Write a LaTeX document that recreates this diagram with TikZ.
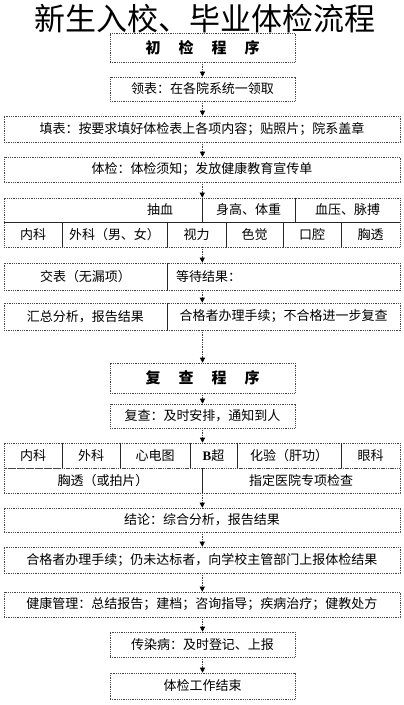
\documentclass[tikz,border=0pt]{standalone}
\usepackage{fontspec}
\setmainfont{Noto Sans CJK SC}
\newfontfamily\latinb{Liberation Serif}
\usetikzlibrary{arrows.meta}
\begin{document}
\begin{tikzpicture}[x=1pt,y=-1pt,
  every node/.style={font=\fontsize{13}{15}\selectfont, inner sep=0pt, text=black},
  box/.style={draw=gray!55!black, dash pattern=on 1pt off 0.8pt, line width=0.55pt},
  bw/.style={minimum width=#1pt},
  bh/.style={minimum height=#1pt},
  headfont/.style={font=\fontsize{15}{17}\selectfont\bfseries},
  arr/.style={draw=gray!50!black, densely dotted, line width=0.7pt,
    -{Triangle[width=5pt,length=5pt,black]}},
  divline/.style={draw=gray!30!black, line width=0.8pt},
  titlestyle/.style={font=\fontsize{31}{33}\selectfont}
]
\useasboundingbox (0,0) rectangle (404,705);
\fill[white] (0,0) rectangle (404,705);

\node[titlestyle] (title) at (205,19) {新生入校、毕业体检流程};

% first stage
\node[box,bw=185,bh=29,headfont] (b1) at (202.5,47.5) {初\hspace{18pt}检\hspace{18pt}程\hspace{18pt}序};
\node[box,bw=185,bh=24] (b2) at (202.5,89) {领表：在各院系统一领取};
\node[box,bw=396,bh=26] (b3) at (202,129) {填表：按要求填好体检表上各项内容；贴照片；院系盖章};
\node[box,bw=396,bh=25] (b4) at (202,169.5) {体检：体检须知；发放健康教育宣传单};

% table 1
\node[box,bw=198,bh=24] (t1a) at (103,210) {};
\node (t1at) at (160,210) {抽血};
\node[box,bw=93,bh=24] (t1b) at (248.5,210) {身高、体重};
\node[box,bw=105,bh=24] (t1c) at (347.5,210) {血压、脉搏};
\node[box,bw=58,bh=25] (t1d) at (33,234.5) {内科};
\node[box,bw=105,bh=25] (t1e) at (114.5,234.5) {外科（男、女）};
\node[box,bw=59,bh=25] (t1f) at (196.5,234.5) {视力};
\node[box,bw=57,bh=25] (t1g) at (254.5,234.5) {色觉};
\node[box,bw=58,bh=25] (t1h) at (312,234.5) {口腔};
\node[box,bw=59,bh=25] (t1i) at (370.5,234.5) {胸透};
\draw[divline] (t1a.north east) -- (t1a.south east);
\draw[divline] (t1b.north east) -- (t1b.south east);
\draw[divline] (t1a.south west) -- (t1c.south east);
\draw[divline] (t1d.north east) -- (t1d.south east);
\draw[divline] (t1e.north east) -- (t1e.south east);
\draw[divline] (t1f.north east) -- (t1f.south east);
\draw[divline] (t1g.north east) -- (t1g.south east);
\draw[divline] (t1h.north east) -- (t1h.south east);

% rows 3 and 4
\node[box,bw=163,bh=27] (r3a) at (85.5,276.5) {交表（无漏项）};
\node[box,bw=233,bh=27] (r3b) at (283.5,276.5) {};
\node[anchor=west] (r3bt) at (176,276.5) {等待结果：};
\draw[divline] (r3a.north east) -- (r3a.south east);
\node[box,bw=163,bh=27] (r4a) at (85.5,316.5) {汇总分析，报告结果};
\node[box,bw=233,bh=27] (r4b) at (283.5,316.5) {合格者办理手续；不合格进一步复查};
\draw[divline] (r4a.north east) -- (r4a.south east);

% second stage
\node[box,bw=185,bh=30,headfont] (b5) at (202.5,378) {复\hspace{18pt}查\hspace{18pt}程\hspace{18pt}序};
\node[box,bw=185,bh=24] (b6) at (202.5,416) {复查：及时安排，通知到人};

% table 2
\node[box,bw=58,bh=25] (t2a) at (33,455.5) {内科};
\node[box,bw=58,bh=25] (t2b) at (91,455.5) {外科};
\node[box,bw=70,bh=25] (t2c) at (155,455.5) {心电图};
\node[box,bw=47,bh=25] (t2d) at (213.5,455.5) {{\latinb\bfseries B}超};
\node[box,bw=104,bh=25] (t2e) at (289,455.5) {化验（肝功）};
\node[box,bw=59,bh=25] (t2f) at (370.5,455.5) {眼科};
\node[box,bw=198,bh=25] (t2g) at (103,480.5) {胸透（或拍片）};
\node[box,bw=198,bh=25] (t2h) at (301,480.5) {指定医院专项检查};
\draw[divline] (t2a.north east) -- (t2a.south east);
\draw[divline] (t2b.north east) -- (t2b.south east);
\draw[divline] (t2c.north east) -- (t2c.south east);
\draw[divline] (t2d.north east) -- (t2d.south east);
\draw[divline] (t2e.north east) -- (t2e.south east);
\draw[divline] (t2g.north east) -- (t2g.south east);

\node[box,bw=396,bh=24] (b7) at (202,520) {结论：综合分析，报告结果};
\node[box,bw=396,bh=26] (b8) at (202,560) {合格者办理手续；仍未达标者，向学校主管部门上报体检结果};
\node[box,bw=396,bh=25] (b9) at (202,604.5) {健康管理：总结报告；建档；咨询指导；疾病治疗；健教处方};
\node[box,bw=185,bh=25] (b10) at (202.5,644.5) {传染病：及时登记、上报};
\node[box,bw=185,bh=26] (b11) at (202.5,686) {体检工作结束};

% connectors
\draw[arr] (b1.south) -- (b2.north);
\draw[arr] (b2.south) -- (b3.north -| b2.south);
\draw[arr] (b3.south -| b2.south) -- (b4.north -| b2.south);
\draw[arr] (b4.south -| t1a.east) -- (t1a.north east);
\draw[arr] (t1f.south -| t1a.east) -- (r3b.north -| t1a.east);
\draw[arr] (r3b.south -| t1a.east) -- (r4b.north -| t1a.east);
\draw[arr] (r4b.south -| b5.north) -- (b5.north);
\draw[arr] (b5.south) -- (b6.north);
\draw[arr] (b6.south) -- (t2d.north -| b6.south);
\draw[arr] (t2g.south east) -- (b7.north -| t2g.south east);
\draw[arr] (b7.south -| t2g.east) -- (b8.north -| t2g.east);
\draw[arr] (b8.south -| t2g.east) -- (b9.north -| t2g.east);
\draw[arr] (b9.south -| b10.north) -- (b10.north);
\draw[arr] (b10.south) -- (b11.north);
\end{tikzpicture}
\end{document}
